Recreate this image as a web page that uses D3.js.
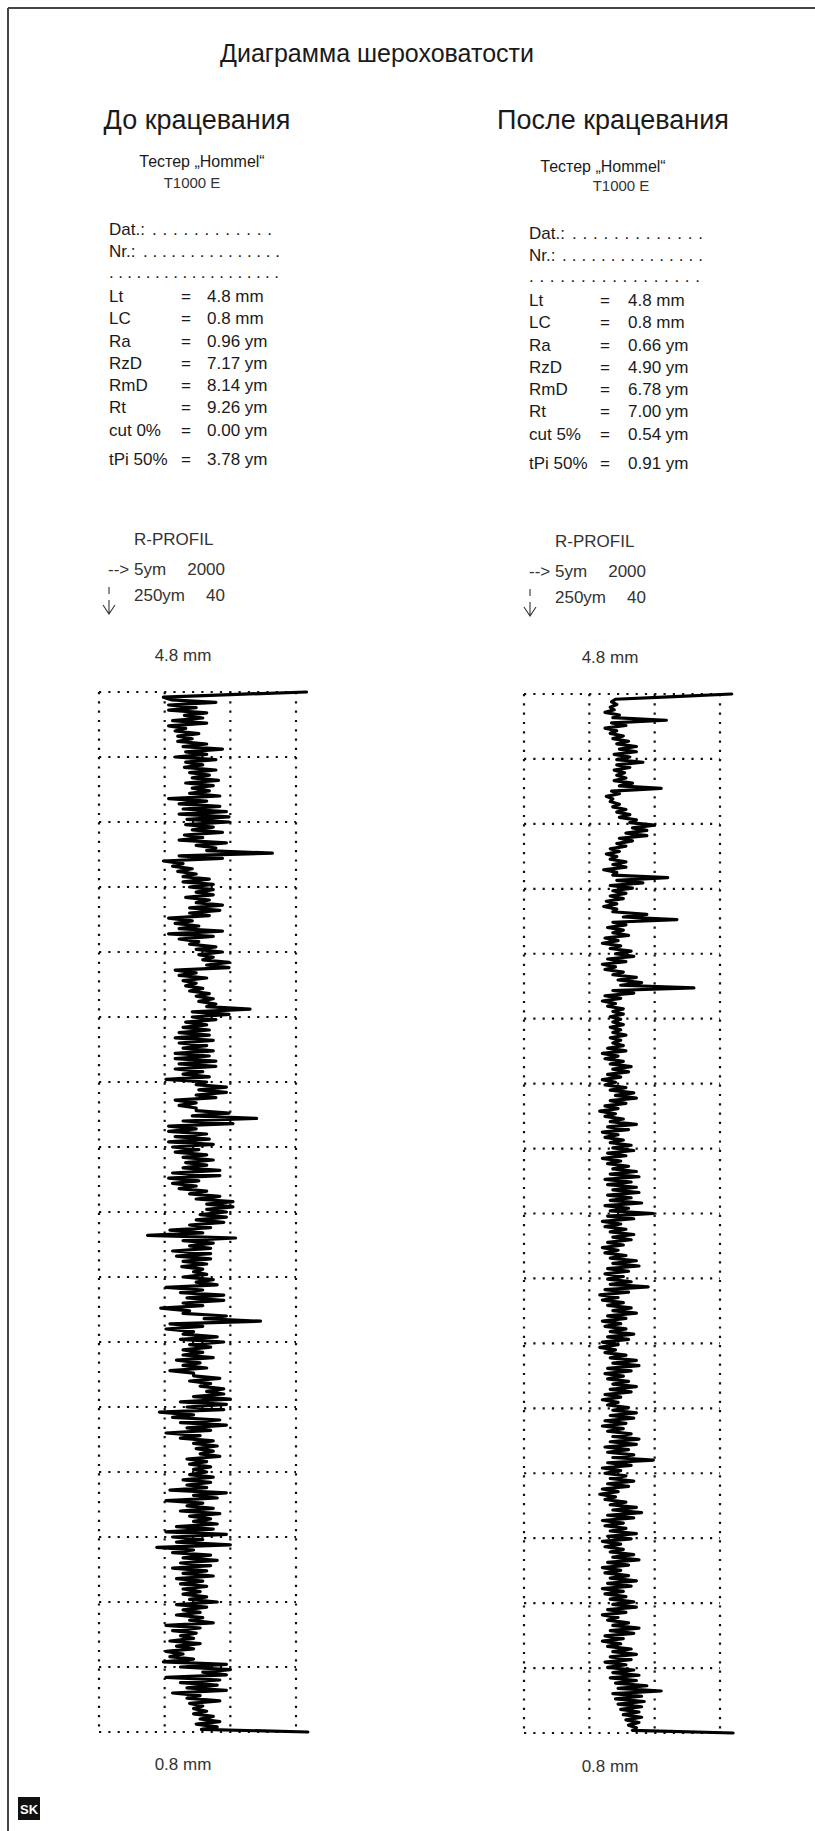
<!DOCTYPE html>
<html><head><meta charset="utf-8">
<script src="https://cdn.jsdelivr.net/npm/d3@7"></script>
<style>
html,body{margin:0;padding:0;background:#fff;}
svg text{font-family:"Liberation Sans",Arial,Helvetica,sans-serif;}
</style></head>
<body>
<svg id="chart" width="815" height="1831"></svg>
<script>
// ---------- DATA ----------
const title = "Диаграмма шероховатости";
const panelTitles = ["До крацевания", "После крацевания"];
const testerLines = ["Тестер „Hommel“", "T1000 E"];
const paramLabels = ["Lt", "LC", "Ra", "RzD", "RmD", "Rt"];
const leftCutLabel = "cut 0%";
const rightCutLabel = "cut 5%";
const tpiLabel = "tPi 50%";
const leftParamValues = ["4.8 mm", "0.8 mm", "0.96 ym", "7.17 ym", "8.14 ym", "9.26 ym", "0.00 ym", "3.78 ym"];
const rightParamValues = ["4.8 mm", "0.8 mm", "0.66 ym", "4.90 ym", "6.78 ym", "7.00 ym", "0.54 ym", "0.91 ym"];
const profileHeader = ["R-PROFIL", "5ym", "2000", "250ym", "40"];
const topLengthLabel = "4.8 mm";
const bottomLengthLabel = "0.8 mm";
// grid: horizontal 5 µm per column, vertical 0.25 mm per row
const xTicksUm = [0, 5, 10, 15];
const yTicksMm = [0,0.25,0.5,0.75,1,1.25,1.5,1.75,2,2.25,2.5,2.75,3,3.25,3.5,3.75,4];

// profile amplitude (µm) along traverse, top to bottom
const leftProfile = [15.8,10.0,4.9,
5.5,8.9, 5.3,7.4, 5.3,8.2, 6.5,7.9, 5.6,8.2, 5.3,6.6, 5.8,7.6, 6.0,7.1, 6.0,8.2, 6.4,9.4,
6.6,8.2, 5.8,8.9, 6.6,7.9, 6.5,8.9, 6.9,8.4, 7.1,9.1, 6.6,8.7, 7.1,8.4, 6.9,9.2, 5.3,8.2,
6.1,9.2, 6.4,9.7, 6.1,9.9, 6.7,9.9, 6.6,8.7, 7.1,9.4, 6.5,7.9, 6.1,9.7, 7.4,8.9, 8.2,13.2,
6.1,9.4, 4.9,6.4, 5.6,7.1, 6.0,7.4, 6.4,8.4, 6.4,8.7, 6.9,8.7, 7.4,8.7, 6.6,8.4, 7.4,9.4,
6.9,9.2, 6.9,8.4, 5.3,7.1, 5.8,7.6, 6.1,9.4, 5.3,8.7, 6.1,7.6, 6.9,8.9, 7.4,9.4, 7.6,8.7,
7.9,9.9, 8.2,9.9, 5.8,7.4, 6.1,8.2, 6.4,7.4, 6.6,7.9, 6.9,8.4, 7.4,8.7, 7.6,8.9, 8.2,11.5,
7.1,9.9, 7.1,8.9, 6.6,8.2, 6.4,8.4, 6.1,8.4, 5.8,8.7, 6.1,8.2, 6.4,8.7, 5.8,8.4, 5.8,8.9,
6.1,8.9, 5.8,7.9, 6.4,8.4, 5.1,8.2, 7.4,9.7, 7.6,9.7, 7.4,8.9, 5.8,7.4, 6.1,7.4, 7.4,9.9,
7.1,12.0, 6.4,10.2, 5.3,7.4, 5.3,8.2, 5.8,8.4, 5.3,8.7, 5.6,7.6, 5.8,8.2, 6.4,8.7, 6.6,8.2,
6.4,9.2, 5.6,9.2, 5.3,7.6, 5.6,7.4, 6.1,8.2, 6.9,9.2, 7.4,10.2, 8.2,10.2, 8.2,9.7,
7.7,9.7, 7.4,9.5, 6.9,8.5, 5.4,7.9, 3.7,10.4, 6.4,8.7, 6.9,8.5, 5.6,8.5, 5.9,8.5, 6.4,8.2,
6.3,7.9, 7.2,8.2, 6.4,8.7, 7.4,9.0, 5.1,7.9, 6.2,9.5, 6.7,9.5, 6.4,7.9, 4.7,6.9, 6.4,9.7,
8.0,12.3, 5.4,7.9, 5.1,7.2, 6.4,9.0, 6.2,9.5, 6.9,8.5, 6.4,7.9, 6.4,8.7, 5.9,7.7, 6.4,8.2,
5.4,7.2, 7.2,9.2, 6.9,8.5, 7.7,9.5, 8.2,9.5, 7.2,10.0, 6.2,9.7, 6.7,9.5, 4.6,7.2, 5.6,9.2,
6.2,9.7, 6.7,8.5, 5.1,7.7, 6.2,8.7, 7.2,9.0, 7.4,8.7, 7.7,9.2, 6.7,8.2, 6.9,8.5, 7.2,8.2,
6.9,8.7, 6.4,8.5, 6.7,8.2, 5.4,9.7, 7.2,9.0, 5.1,7.9, 6.7,8.7, 6.2,9.2, 6.9,8.5, 7.2,9.0,
5.9,8.7, 5.1,9.7, 5.6,7.9, 5.9,10.0, 4.4,7.2, 5.6,8.5, 6.4,9.0, 6.2,8.5, 5.6,8.2, 6.4,8.7,
5.9,7.9, 6.2,8.2, 6.4,7.7, 6.4,8.2, 6.9,9.0, 5.9,8.2, 6.4,7.7, 5.9,7.9, 6.9,8.7, 5.1,7.7,
5.6,7.4, 6.2,7.2, 5.4,7.7, 5.9,7.2, 5.1,6.4, 5.4,7.2, 4.9,9.7, 6.2,10.0, 7.9,9.7, 5.1,9.2,
6.2,9.0, 6.7,9.7, 5.6,7.7, 6.7,9.2, 6.9,7.9, 7.2,8.2, 7.2,8.7, 7.7,9.2, 7.4,9.0,
7.8,15.9];

const rightProfile = [15.9,11.5,7.0,
6.7,7.1, 6.6,6.9, 6.2,7.3, 6.8,10.9, 6.7,7.8, 6.2,7.1, 6.6,7.6, 6.8,8.0, 7.1,8.6, 7.3,8.6,
6.9,8.1, 7.1,9.1, 7.1,8.1, 6.9,7.7, 7.1,7.8, 6.9,8.3, 7.3,10.5, 6.7,7.3, 6.3,6.8, 6.6,7.3,
6.8,7.8, 7.1,8.1, 7.3,8.6, 8.1,10.0, 8.3,9.4, 7.8,9.4, 7.3,8.3, 7.1,7.8, 6.6,7.3, 6.3,7.1,
6.6,7.8, 6.8,7.8, 6.1,7.1, 6.8,11.0, 7.1,9.1, 6.6,8.3, 6.8,7.8, 6.6,7.6, 6.3,7.1, 6.1,7.1,
6.8,9.4, 7.6,11.7, 6.8,7.8,
6.4,7.6, 6.8,8.0, 6.2,7.2, 6.0,7.4, 6.6,8.2, 7.0,8.4, 6.4,7.8, 6.0,7.0, 6.2,7.6, 6.8,8.6,
7.2,9.0, 7.4,13.0, 6.8,8.4, 6.2,7.4, 6.0,7.0, 6.4,7.6, 6.8,7.6, 6.6,7.4, 6.8,7.6, 6.6,7.4,
6.8,7.8, 6.6,7.4, 6.8,7.6, 6.4,7.8, 6.0,7.2, 6.2,7.6, 6.6,8.2, 6.8,8.0, 6.4,7.4, 6.0,7.0,
6.2,7.8, 6.6,8.4, 7.0,8.6, 6.6,7.8, 6.2,7.2, 5.8,7.0, 6.2,7.6, 6.6,8.6, 6.4,8.0, 6.0,7.2,
6.2,7.6, 6.6,8.2, 6.8,8.4, 6.4,7.8, 6.0,7.4, 6.4,8.0, 6.8,8.6, 6.6,8.8, 6.2,8.2, 6.4,8.6,
6.8,8.8, 6.4,8.2, 6.6,9.0, 6.2,8.0, 6.6,9.9, 6.4,8.4, 6.0,7.4, 6.2,7.8, 6.6,8.4, 6.8,8.2,
6.4,7.6, 6.0,7.2, 6.2,7.8, 6.6,8.6, 6.8,8.8, 6.4,8.0, 6.2,7.6, 6.4,8.2, 6.6,9.5, 6.2,8.0,
5.8,7.2, 6.0,7.6, 6.4,8.2, 6.8,8.6, 6.4,7.8, 6.0,7.4, 6.2,7.8, 6.6,8.4, 6.4,8.0, 6.0,7.2,
5.8,7.0, 6.2,7.8, 6.6,8.6, 6.8,8.8, 6.4,8.2, 6.2,7.6, 6.4,8.0, 6.8,8.6, 6.6,8.2, 6.2,7.4,
6.0,7.2, 6.4,8.0, 6.8,8.6, 6.6,8.4, 6.2,7.8, 6.0,7.6, 6.4,8.2, 6.8,8.8, 6.6,8.6, 6.2,8.0,
6.4,8.4, 6.8,9.9, 6.4,8.2, 6.0,7.4, 6.2,7.8, 6.6,8.4, 6.4,8.0, 6.0,7.2, 5.8,7.0, 6.2,7.8,
6.6,8.6, 6.8,9.0, 6.4,8.4, 6.0,7.6, 6.2,7.8, 6.6,8.6, 6.4,8.2, 6.0,7.4, 6.2,7.6, 6.6,8.4,
6.8,8.8, 6.4,8.0, 6.0,7.4, 6.2,8.0, 6.6,8.6, 6.4,8.2, 6.0,7.6, 6.2,7.8, 6.6,8.4, 6.8,8.6,
6.4,7.8, 6.0,7.2, 6.4,8.0, 6.8,8.8, 6.6,8.4, 6.2,7.6, 6.0,7.4, 6.4,8.2, 6.8,8.6, 6.6,8.2,
6.2,7.8, 6.4,8.4, 6.8,8.8, 6.6,8.6, 7.0,9.4, 7.2,10.5, 6.8,9.0, 7.0,9.2, 7.2,9.0, 7.4,8.8,
7.6,9.0, 7.8,8.8, 8.0,8.6,
8.3,16.0];

// ---------- DRAW ----------
const svg = d3.select("#chart");
const ink = "#1a1a1a";

// frame
svg.append("line").attr("x1",8).attr("y1",8).attr("x2",815).attr("y2",8).attr("stroke","#444").attr("stroke-width",2);
svg.append("line").attr("x1",8).attr("y1",8).attr("x2",8).attr("y2",1831).attr("stroke","#444").attr("stroke-width",2);

svg.append("text").attr("x",377).attr("y",62).attr("text-anchor","middle")
  .attr("font-size",25).attr("fill",ink).text(title);

const panels = [
  {cx:197, dy:0, tdy:0, t1x:202, t2x:192, title:panelTitles[0], cut:leftCutLabel, values:leftParamValues, profile:leftProfile,
   labelX:109, eqX:186, valX:207, gx:[99,296], gy:[692,1732], hdrX:134, arrowX:109, numRight:225, lenCx:183,
   dots:[[152,272,12],[143,280,15],[109,279,19]]},
  {cx:613, dy:4, tdy:5, t1x:603, t2x:621, title:panelTitles[1], cut:rightCutLabel, values:rightParamValues, profile:rightProfile,
   labelX:529, eqX:605, valX:628, gx:[524,720], gy:[694,1733], hdrX:555, arrowX:530, numRight:646, lenCx:610,
   dots:[[572,703,13],[562,703,15],[529,700,17]]}
];

panels.forEach(p => {
  const g = svg.append("g");
  g.append("text").attr("x",p.cx).attr("y",129).attr("text-anchor","middle")
    .attr("font-size",27).attr("fill",ink).text(p.title);
  g.append("text").attr("x",p.t1x).attr("y",167+p.tdy).attr("text-anchor","middle")
    .attr("font-size",16).attr("fill",ink).text(testerLines[0]);
  g.append("text").attr("x",p.t2x).attr("y",188+p.tdy*0.5).attr("text-anchor","middle")
    .attr("font-size",15).attr("fill","#333").text(testerLines[1]);

  const fs = 17;
  const rowsTop = [235, 257, 278];
  g.append("text").attr("x",p.labelX).attr("y",rowsTop[0]+p.dy).attr("font-size",fs).attr("fill",ink).text("Dat.:");
  g.append("text").attr("x",p.labelX).attr("y",rowsTop[1]+p.dy).attr("font-size",fs).attr("fill",ink).text("Nr.:");
  p.dots.forEach((d,i) => {
    g.append("text").attr("x",d[0]).attr("y",rowsTop[i]+p.dy).attr("font-size",fs).attr("fill",ink)
      .attr("textLength",d[1]-d[0]).attr("lengthAdjust","spacing").text(".".repeat(d[2]));
  });

  const labels = paramLabels.concat([p.cut, tpiLabel]);
  const rowY = [302,324,347,369,391,413,436,465];
  labels.forEach((lab,i) => {
    const y = rowY[i] + p.dy;
    g.append("text").attr("x",p.labelX).attr("y",y).attr("font-size",fs).attr("fill",ink).text(lab);
    g.append("text").attr("x",p.eqX).attr("y",y).attr("text-anchor","middle").attr("font-size",fs).attr("fill",ink).text("=");
    g.append("text").attr("x",p.valX).attr("y",y).attr("font-size",fs).attr("fill",ink).text(p.values[i]);
  });

  // R-profile header
  const hc = "#333";
  const hy = p.dy ? 2 : 0;
  g.append("text").attr("x",p.hdrX).attr("y",545+hy).attr("font-size",fs).attr("fill",hc).text(profileHeader[0]);
  g.append("text").attr("x",p.arrowX-1).attr("y",575+hy).attr("font-size",fs).attr("fill",hc).text("-->");
  g.append("text").attr("x",p.hdrX).attr("y",575+hy).attr("font-size",fs).attr("fill",hc).text(profileHeader[1]);
  g.append("text").attr("x",p.numRight).attr("y",575+hy).attr("text-anchor","end").attr("font-size",fs).attr("fill",hc).text(profileHeader[2]);
  g.append("text").attr("x",p.hdrX).attr("y",601+hy).attr("font-size",fs).attr("fill",hc).text(profileHeader[3]);
  g.append("text").attr("x",p.numRight).attr("y",601+hy).attr("text-anchor","end").attr("font-size",fs).attr("fill",hc).text(profileHeader[4]);
  // dashed down arrow
  const ax = p.arrowX, ay = hy;
  g.append("path").attr("d",`M${ax},${587+ay}V${594+ay}M${ax},${600+ay}V${613+ay}M${ax-6},${605+ay}L${ax},${614+ay}L${ax+6},${605+ay}`)
    .attr("fill","none").attr("stroke",hc).attr("stroke-width",1.1);

  g.append("text").attr("x",p.lenCx).attr("y",661+hy).attr("text-anchor","middle").attr("font-size",fs).attr("fill",hc).text(topLengthLabel);
  g.append("text").attr("x",p.lenCx).attr("y",1770+hy).attr("text-anchor","middle").attr("font-size",fs).attr("fill",hc).text(bottomLengthLabel);

  // scales
  const x = d3.scaleLinear().domain([0,15]).range(p.gx);
  const y = d3.scaleLinear().domain([0,4]).range(p.gy);

  // dotted grid
  const grid = g.append("g").attr("stroke","#111").attr("stroke-width",2.2).attr("stroke-dasharray","2.2,7.1");
  xTicksUm.forEach(v => grid.append("line").attr("x1",x(v)).attr("x2",x(v)).attr("y1",y(0)).attr("y2",y(4)));
  yTicksMm.forEach(v => grid.append("line").attr("x1",x(0)).attr("x2",x(15)).attr("y1",y(v)).attr("y2",y(v)));

  // profile trace
  const n = p.profile.length;
  const line = d3.line().x(d => x(d)).y((d,i) => y(i*4/(n-1)));
  g.append("path").datum(p.profile).attr("d",line).attr("fill","none")
    .attr("stroke","#000").attr("stroke-width",3.2).attr("stroke-linejoin","round").attr("stroke-linecap","round");
});

// logo
svg.append("rect").attr("x",18).attr("y",1797).attr("width",22).attr("height",23).attr("fill","#111");
svg.append("text").attr("x",29).attr("y",1814).attr("text-anchor","middle").attr("font-size",13)
  .attr("font-weight","bold").attr("fill","#fff").text("SK");
</script>
</body></html>
